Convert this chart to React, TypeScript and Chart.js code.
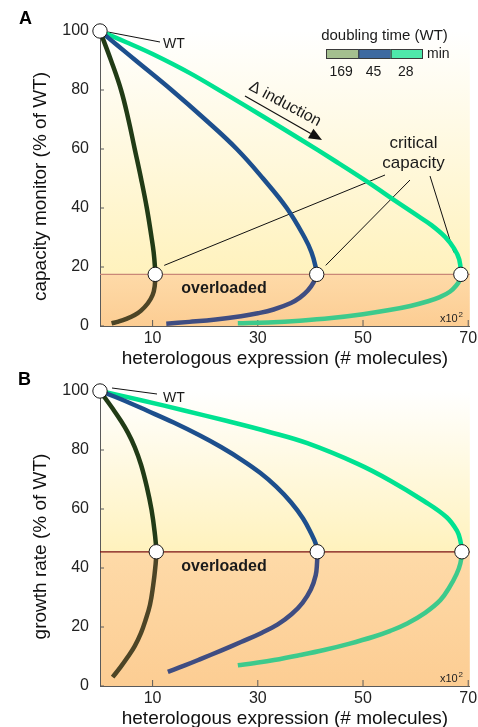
import React, { useEffect, useRef } from "react";
import { Chart, registerables } from "chart.js";

Chart.register(...registerables);

type Pt = [number, number];

const FONT = '"Liberation Sans", Arial, Helvetica, sans-serif';

// ---- axes ----
const xTickValues = [10, 30, 50, 70];
const yTickValues = [0, 20, 40, 60, 80, 100];
const xMin = 0;
const xMax = 70.3;
const doublingTimes = ["169", "45", "28"];

// ---- key points ----
const wildType: Pt = [0, 100];
const capThreshold = 17.5; // capacity monitor, % of WT
const growthThreshold = 45.5; // growth rate, % of WT

// ---- Panel A: capacity monitor (% of WT) vs expression (x10^2 molecules) ----
const capSlowUpper: Pt[] = [[0, 100], [2.1, 90], [4.0, 80], [5.4, 70], [6.6, 60], [7.8, 50], [8.9, 40], [9.8, 30], [10.2, 25], [10.45, 20], [10.5, 17.5]];
const capSlowLower: Pt[] = [[10.5, 17.5], [10.4, 13.5], [10.0, 10.5], [9.1, 7.7], [7.8, 5.2], [6.6, 3.7], [5.0, 2.4], [3.5, 1.5], [2.2, 0.9]];
const capMidUpper: Pt[] = [[0, 100], [3.4, 95], [6.8, 90], [13.6, 80], [20.0, 70], [26.0, 60], [31.0, 50], [35.5, 40], [38.9, 30], [40.2, 25], [41.0, 20], [41.2, 17.5]];
const capMidLower: Pt[] = [[41.2, 17.5], [40.6, 14.8], [39.5, 12], [38, 9.6], [36.3, 7.8], [33, 5.6], [30, 4.3], [26.8, 3.3], [22, 2.2], [17, 1.4], [12.6, 0.8]];
const capFastUpper: Pt[] = [[0, 100], [5, 96.2], [10, 92.2], [17, 85.8], [24, 78.5], [31, 71], [38, 63.4], [45, 55.6], [51, 48.7], [56, 42.6], [60, 37.8], [63, 34.2], [65.6, 30.2], [67.3, 26.3], [68.3, 22.5], [68.6, 17.5]];
const capFastLower: Pt[] = [[68.6, 17.5], [68.4, 15.6], [67.8, 13.9], [66.5, 11.6], [64.6, 9.8], [62.2, 8.3], [59, 6.8], [55, 5.4], [50, 4.0], [44, 2.7], [38, 1.8], [32, 1.2], [26.2, 0.9]];

// ---- Panel B: growth rate (% of WT) vs expression ----
const grSlowUpper: Pt[] = [[0, 100], [1.1, 97.3], [2.5, 93.8], [3.9, 90.1], [5.3, 85.9], [6.6, 81], [7.8, 75], [8.9, 67.5], [9.8, 59.7], [10.4, 52], [10.7, 45.5]];
const grSlowLower: Pt[] = [[10.7, 45.5], [10.5, 40], [10.1, 34], [9.5, 27.5], [8.6, 22], [7.8, 18], [6.6, 13.5], [5.3, 9.9], [3.9, 6.4], [2.4, 3]];
const grMidUpper: Pt[] = [[0, 100], [4, 97.2], [9, 93.3], [14, 89.3], [19, 84.9], [23, 81], [27, 76.6], [30.5, 72.2], [33.5, 67.6], [36.3, 62.3], [38.6, 56.8], [40.2, 51.5], [41, 48.3], [41.3, 45.5]];
const grMidLower: Pt[] = [[41.3, 45.5], [41.25, 41.5], [41, 37.5], [40.1, 32.8], [38.5, 28.2], [36.4, 24.3], [33.8, 20.9], [30.6, 17.9], [26.8, 14.9], [23, 12], [19.2, 9.2], [16, 6.9], [12.9, 4.8]];
const grFastUpper: Pt[] = [[0, 100], [8, 96.8], [16, 93.4], [24, 89.9], [32, 86.2], [39.4, 82.3], [49, 75.3], [55.2, 69.6], [61.5, 62.8], [65.9, 57.2], [67.9, 52.5], [68.5, 49.3], [68.8, 45.5]];
const grFastLower: Pt[] = [[68.8, 45.5], [68.5, 41.5], [67.8, 38], [66.4, 33.4], [64.7, 29.1], [61.8, 24.8], [58.4, 21.2], [55.2, 18.7], [52, 16.7], [47.3, 14.3], [42.6, 12.2], [37.8, 10.4], [33.1, 8.8], [29.5, 7.8], [26.2, 7]];

// ---- styles ----
const upperColors = ["#213b16", "#1d4f8d", "#00e291"];
const lowerColors = ["#4d4526", "#3f4d82", "#3dca8c"];
const legendColors = ["#a4bf8f", "#3e6aa0", "#4ee8aa"];
const AXIS = "#5a5a5a";
const TEXT = "#1a1a1a";

type Spec = {
  letter: string;
  top: number;
  height: number;
  padTop: number;
  xAxisH: number;
  yTitle: string;
  threshold: number;
  thresholdColor: string;
  uppers: Pt[][];
  lowers: Pt[][];
  extras: boolean;
  wtLine: [number, number, number, number];
  wtText: [number, number];
  letterPos: [number, number];
};

function txt(
  ctx: CanvasRenderingContext2D,
  s: string,
  x: number,
  y: number,
  size: number,
  opts: { bold?: boolean; align?: CanvasTextAlign; baseline?: CanvasTextBaseline; color?: string } = {}
) {
  ctx.save();
  ctx.font = `${opts.bold ? "bold " : ""}${size}px ${FONT}`;
  ctx.textAlign = opts.align || "left";
  ctx.textBaseline = opts.baseline || "alphabetic";
  ctx.fillStyle = opts.color || TEXT;
  ctx.fillText(s, x, y);
  ctx.restore();
}

function line(ctx: CanvasRenderingContext2D, x1: number, y1: number, x2: number, y2: number, color = "#111", w = 1) {
  ctx.save();
  ctx.strokeStyle = color;
  ctx.lineWidth = w;
  ctx.beginPath();
  ctx.moveTo(x1, y1);
  ctx.lineTo(x2, y2);
  ctx.stroke();
  ctx.restore();
}

function makePlugin(spec: Spec) {
  const off = spec.top;
  return {
    id: "deco" + spec.letter,
    beforeDraw(chart: any) {
      const { ctx, chartArea: ca, scales } = chart;
      const ty = scales.y.getPixelForValue(spec.threshold);
      ctx.save();
      let g = ctx.createLinearGradient(0, ca.top, 0, ty);
      g.addColorStop(0, "#ffffff");
      g.addColorStop(1, "#fff2bd");
      ctx.fillStyle = g;
      ctx.fillRect(ca.left, ca.top, ca.right - ca.left, ty - ca.top);
      g = ctx.createLinearGradient(0, ty, 0, ca.bottom);
      g.addColorStop(0, "#fedaa8");
      g.addColorStop(1, "#fccd93");
      ctx.fillStyle = g;
      ctx.fillRect(ca.left, ty, ca.right - ca.left, ca.bottom - ty);
      ctx.restore();
    },
    beforeDatasetsDraw(chart: any) {
      const { ctx, chartArea: ca, scales } = chart;
      const { x, y } = scales;
      const ty = y.getPixelForValue(spec.threshold);
      // threshold line
      line(ctx, ca.left, ty, ca.right, ty, spec.thresholdColor, 1.2);
      // inward tick marks
      for (const v of xTickValues) {
        const px = x.getPixelForValue(v);
        line(ctx, px, ca.bottom, px, ca.bottom - 6, AXIS, 1);
      }
      for (const v of yTickValues) {
        const py = y.getPixelForValue(v);
        line(ctx, ca.left, py, ca.left + 4, py, AXIS, 1);
      }
      // WT leader
      const [a, b, c, d] = spec.wtLine;
      line(ctx, a, b - off, c, d - off, "#111", 1);
      if (spec.extras) {
        // critical capacity leaders
        const crit = spec.uppers.map((u) => u[u.length - 1]);
        const p0 = [x.getPixelForValue(crit[0][0]), y.getPixelForValue(crit[0][1])];
        const p1 = [x.getPixelForValue(crit[1][0]), y.getPixelForValue(crit[1][1])];
        const p2 = [x.getPixelForValue(crit[2][0]), y.getPixelForValue(crit[2][1])];
        line(ctx, p0[0] + 9, p0[1] - 9, 385, 175, "#111", 1);
        line(ctx, p1[0] + 9, p1[1] - 9, 410, 180, "#111", 1);
        line(ctx, p2[0] - 7, p2[1] - 22, 430, 176, "#111", 1);
        // induction arrow
        const ax1 = 245, ay1 = 96, ax2 = 322, ay2 = 140;
        const ang = Math.atan2(ay2 - ay1, ax2 - ax1);
        const hl = 13, hw = 5.5;
        const bx = ax2 - hl * Math.cos(ang), by = ay2 - hl * Math.sin(ang);
        line(ctx, ax1, ay1, bx, by, "#111", 1.2);
        ctx.save();
        ctx.fillStyle = "#111";
        ctx.beginPath();
        ctx.moveTo(ax2, ay2);
        ctx.lineTo(bx + hw * Math.sin(ang), by - hw * Math.cos(ang));
        ctx.lineTo(bx - hw * Math.sin(ang), by + hw * Math.cos(ang));
        ctx.closePath();
        ctx.fill();
        ctx.restore();
        ctx.save();
        ctx.translate(285, 104);
        ctx.rotate((28 * Math.PI) / 180);
        txt(ctx, "Δ induction", 0, 0, 16, { align: "center", baseline: "middle" });
        ctx.restore();
      }
    },
    afterDraw(chart: any) {
      const { ctx, chartArea: ca, scales } = chart;
      const ty = scales.y.getPixelForValue(spec.threshold);
      // panel letter
      txt(ctx, spec.letter, spec.letterPos[0], spec.letterPos[1] - off, 18, { bold: true, color: "#000" });
      // WT label
      txt(ctx, "WT", spec.wtText[0], spec.wtText[1] - off, 14);
      // overloaded
      txt(ctx, "overloaded", 224, ty + 19, 16, { bold: true, align: "center" });
      // x10^2
      txt(ctx, "x10", 440, ca.bottom - 4, 11, { color: "#222" });
      txt(ctx, "2", 458.5, ca.bottom - 9, 8, { color: "#222" });
      // axis titles
      txt(ctx, "heterologous expression (# molecules)", (ca.left + ca.right) / 2, ca.bottom + 38, 19, { align: "center", color: "#111" });
      ctx.save();
      ctx.translate(41, (ca.top + ca.bottom) / 2 + 8);
      ctx.rotate(-Math.PI / 2);
      txt(ctx, spec.yTitle, 0, 0, 19, { align: "center", baseline: "middle", color: "#111" });
      ctx.restore();
      if (spec.extras) {
        // legend
        txt(ctx, "doubling time (WT)", 384.5, 40, 15, { align: "center" });
        const bx = 326, bw = 97 / 3, by = 49, bh = 10;
        legendColors.forEach((c, i) => {
          ctx.save();
          ctx.fillStyle = c;
          ctx.fillRect(bx + i * bw, by, bw, bh);
          ctx.strokeStyle = "#3a3a3a";
          ctx.lineWidth = 1;
          ctx.strokeRect(bx + i * bw + 0.5, by + 0.5, bw - 1 + (i < 2 ? 1 : 0), bh - 1);
          ctx.restore();
          txt(ctx, doublingTimes[i], bx + i * bw + bw / 2 - 1, 76, 14, { align: "center" });
        });
        txt(ctx, "min", 427, 58, 14);
        // critical capacity
        txt(ctx, "critical", 413.5, 148, 17, { align: "center" });
        txt(ctx, "capacity", 413.5, 168, 17, { align: "center" });
      }
    },
  };
}

function makeConfig(spec: Spec): any {
  const thr = spec.threshold;
  const curveDs = (upper: Pt[], lower: Pt[], i: number) => ({
    data: [...upper, ...lower.slice(1)].map(([x, y]) => ({ x, y })),
    showLine: true,
    borderColor: upperColors[i],
    backgroundColor: upperColors[i],
    borderWidth: 4.5,
    pointRadius: 0,
    pointHoverRadius: 0,
    tension: 0.4,
    fill: false,
    clip: false,
    segment: {
      borderColor: (c: any) => ((c.p0.parsed.y + c.p1.parsed.y) / 2 < thr ? lowerColors[i] : upperColors[i]),
    },
  });
  const crit = spec.uppers.map((u) => u[u.length - 1]);
  const circles = {
    data: [wildType, ...crit].map(([x, y]) => ({ x, y })),
    showLine: false,
    pointRadius: 7.2,
    pointHoverRadius: 7.2,
    pointBackgroundColor: "#ffffff",
    pointBorderColor: "#1a1a1a",
    pointBorderWidth: 1,
    clip: false,
    order: -1,
  };
  const datasets: any[] = [circles];
  spec.uppers.forEach((u, i) => datasets.push(curveDs(u, spec.lowers[i], i)));

  return {
    type: "scatter",
    data: { datasets },
    options: {
      responsive: false,
      animation: false,
      devicePixelRatio: 1,
      events: [],
      layout: { padding: { top: spec.padTop, right: 7, left: 0, bottom: 0 } },
      plugins: { legend: { display: false }, tooltip: { enabled: false } },
      scales: {
        x: {
          type: "linear",
          min: xMin,
          max: xMax,
          grid: { display: false, drawTicks: false },
          border: { display: true, color: AXIS, width: 1 },
          ticks: { font: { family: FONT, size: 16 }, color: "#222", padding: 3, maxRotation: 0, autoSkip: false },
          afterBuildTicks: (s: any) => {
            s.ticks = xTickValues.map((v) => ({ value: v }));
          },
          afterFit: (s: any) => {
            s.height = spec.xAxisH;
            s.paddingLeft = 0;
            s.paddingRight = 0;
          },
        },
        y: {
          type: "linear",
          min: 0,
          max: 100,
          grid: { display: false, drawTicks: false },
          border: { display: true, color: AXIS, width: 1 },
          ticks: { font: { family: FONT, size: 16 }, color: "#222", padding: 11, autoSkip: false },
          afterBuildTicks: (s: any) => {
            s.ticks = yTickValues.map((v) => ({ value: v }));
          },
          afterFit: (s: any) => {
            s.width = 100;
            s.paddingTop = 0;
            s.paddingBottom = 0;
          },
        },
      },
    },
    plugins: [makePlugin(spec)],
  };
}

const specA: Spec = {
  letter: "A",
  top: 0,
  height: 372,
  padTop: 31,
  xAxisH: 46,
  yTitle: "capacity monitor (% of WT)",
  threshold: capThreshold,
  thresholdColor: "#c98878",
  uppers: [capSlowUpper, capMidUpper, capFastUpper],
  lowers: [capSlowLower, capMidLower, capFastLower],
  extras: true,
  wtLine: [108, 32, 160, 42],
  wtText: [163, 48],
  letterPos: [19, 24],
};

const specB: Spec = {
  letter: "B",
  top: 365,
  height: 362,
  padTop: 26,
  xAxisH: 41,
  yTitle: "growth rate (% of WT)",
  threshold: growthThreshold,
  thresholdColor: "#7a1010",
  uppers: [grSlowUpper, grMidUpper, grFastUpper],
  lowers: [grSlowLower, grMidLower, grFastLower],
  extras: false,
  wtLine: [112, 388, 157, 394],
  wtText: [163, 402],
  letterPos: [18, 385],
};

function Panel({ spec }: { spec: Spec }) {
  const ref = useRef<HTMLCanvasElement>(null);
  useEffect(() => {
    const chart = new Chart(ref.current as HTMLCanvasElement, makeConfig(spec));
    return () => chart.destroy();
  }, [spec]);
  return (
    <canvas
      ref={ref}
      width={478}
      height={spec.height}
      style={{ position: "absolute", left: 0, top: spec.top, width: 478, height: spec.height }}
    />
  );
}

export default function App() {
  return (
    <div style={{ position: "absolute", left: 0, top: 0, width: 478, height: 727, background: "#ffffff", overflow: "hidden" }}>
      <Panel spec={specA} />
      <Panel spec={specB} />
    </div>
  );
}
